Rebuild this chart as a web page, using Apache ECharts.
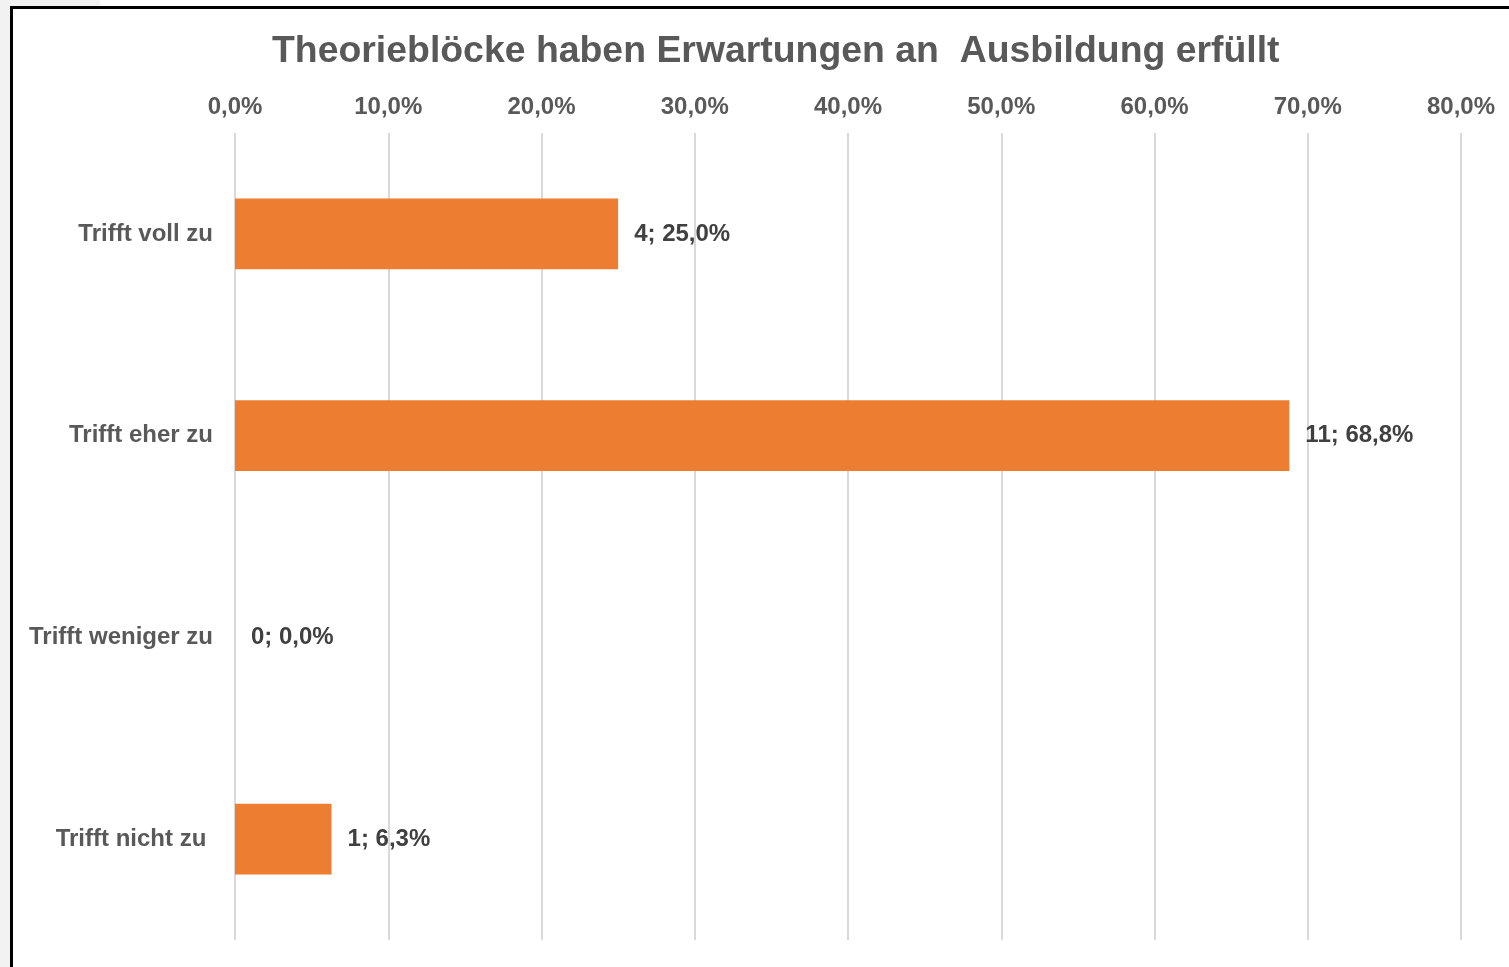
<!DOCTYPE html>
<html>
<head>
<meta charset="utf-8">
<script src="https://cdn.jsdelivr.net/npm/echarts@6/dist/echarts.min.js"></script>
<style>
  html, body { margin: 0; padding: 0; background: #fff; }
  #chart { position: absolute; left: 0; top: 0; width: 1509px; height: 967px; }
  /* Rahmen links/oben wie im Screenshot */
  #frame {
    position: absolute; left: 10px; top: 6px; width: 1600px; height: 1100px;
    border-left: 3px solid #000; border-top: 3px solid #000;
    pointer-events: none;
  }
  #corner { position: absolute; left: 0; top: 0; width: 100px; height: 6px; background: #f2f2f2; }
  #side { position: absolute; left: 0; top: 0; width: 10px; height: 967px; background: #f2f2f2; }
</style>
</head>
<body>
<div id="chart"></div>
<div id="corner"></div>
<div id="side"></div>
<div id="frame"></div>
<script>
const titleText = 'Theorieblöcke haben Erwartungen an  Ausbildung erfüllt'
const categories = ['Trifft voll zu', 'Trifft eher zu', 'Trifft weniger zu', 'Trifft nicht zu ']
const counts = [4, 11, 0, 1]
const percents = [25.0, 68.8, 0.0, 6.3]
const axisTicks = [0, 10, 20, 30, 40, 50, 60, 70, 80]

const fmt = v => v.toFixed(1).replace('.', ',') + '%'
const font = 'Liberation Sans, Arial, sans-serif'

const chart = echarts.init(document.getElementById('chart'))
chart.setOption({
  animation: false,
  title: {
    text: titleText,
    left: 267,
    top: 28,
    textStyle: { fontFamily: font, fontSize: 37.4, fontWeight: 'bold', color: '#595959' }
  },
  grid: { left: 235, right: 48, top: 133, bottom: 27 },
  xAxis: {
    type: 'value',
    position: 'top',
    min: axisTicks[0],
    max: axisTicks[axisTicks.length - 1],
    interval: 10,
    axisLine: { show: false },
    axisTick: { show: false },
    axisLabel: {
      margin: 14,
      formatter: v => fmt(v),
      fontFamily: font, fontSize: 24, fontWeight: 'bold', color: '#595959'
    },
    splitLine: { lineStyle: { color: '#d9d9d9', width: 2 } }
  },
  yAxis: {
    type: 'category',
    inverse: true,
    data: categories,
    axisLine: { show: false },
    axisTick: { show: false },
    axisLabel: {
      margin: 22,
      padding: [6, 0, 0, 0],
      fontFamily: font, fontSize: 24, fontWeight: 'bold', color: '#595959'
    }
  },
  series: [{
    type: 'bar',
    data: percents,
    barWidth: '35%',
    itemStyle: { color: '#ED7D31' },
    label: {
      show: true,
      position: 'right',
      distance: 16,
      padding: [6, 0, 0, 0],
      formatter: p => counts[p.dataIndex] + '; ' + fmt(p.value),
      fontFamily: font, fontSize: 24, fontWeight: 'bold', color: '#404040'
    }
  }]
})
</script>
</body>
</html>
